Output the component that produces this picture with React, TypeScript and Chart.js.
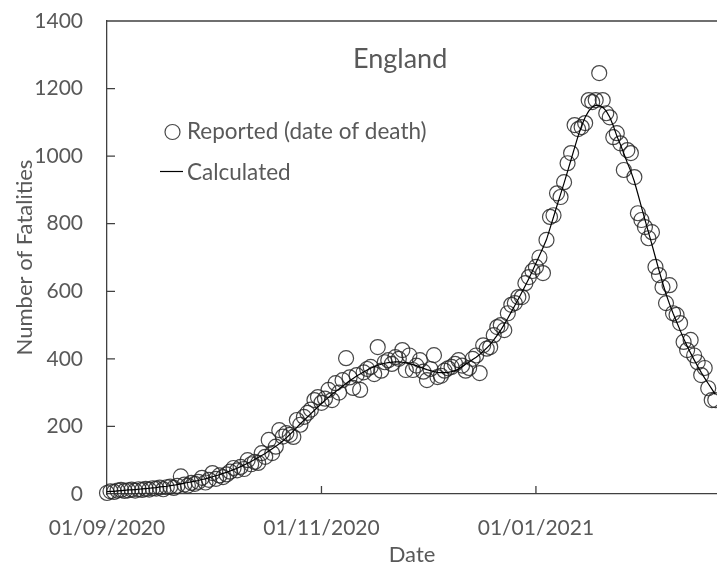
import React, { useEffect, useRef } from "react";
import { Chart, registerables } from "chart.js";
Chart.register(...registerables);

// Day 0 = 01/09/2020, one value per day
const reported = [
  3, 8, 6, 10, 12, 9, 11, 13, 10, 14,
  12, 15, 13, 17, 16, 19, 14, 20, 22, 18,
  24, 52, 28, 25, 33, 30, 36, 48, 34, 42,
  62, 45, 55, 50, 58, 66, 77, 70, 80, 74,
  100, 88, 95, 92, 121, 110, 160, 121, 140, 189,
  170, 180, 175, 169, 219, 205, 228, 240, 250, 278,
  287, 270, 282, 308, 278, 328, 300, 337, 402, 345,
  314, 352, 308, 360, 370, 376, 355, 435, 365, 390,
  396, 385, 405, 400, 426, 367, 410, 367, 380, 396,
  362, 337, 370, 411, 346, 350, 365, 372, 376, 385,
  396, 380, 365, 373, 400, 410, 358, 440, 430, 435,
  470, 494, 500, 485, 535, 560, 565, 583, 583, 624,
  642, 660, 672, 700, 654, 752, 820, 825, 890, 879,
  923, 979, 1009, 1092, 1080, 1086, 1098, 1166, 1160, 1166,
  1246, 1166, 1127, 1115, 1056, 1068, 1038, 959, 1018, 1009,
  938, 831, 811, 790, 757, 775, 672, 648, 612, 565,
  618, 535, 530, 506, 450, 426, 456, 410, 390, 352,
  373, 313, 278, 278,
];

const calculated = [
  7, 8, 8, 9, 10, 11, 12, 12, 13, 14,
  15, 16, 17, 18, 19, 21, 22, 23, 25, 26,
  28, 30, 32, 34, 36, 38, 40, 43, 45, 48,
  51, 54, 57, 61, 64, 68, 72, 76, 81, 86,
  91, 96, 102, 108, 114, 120, 127, 134, 141, 149,
  157, 166, 176, 186, 197, 208, 218, 228, 238, 248,
  258, 268, 277, 286, 295, 303, 311, 319, 327, 335,
  342, 349, 355, 361, 367, 372, 377, 381, 384, 387,
  389, 390, 391, 391, 390, 388, 386, 383, 380, 376,
  372, 368, 365, 362, 360, 359, 359, 360, 362, 365,
  370, 377, 384, 391, 398, 405, 413, 422, 432, 443,
  456, 470, 485, 502, 520, 539, 558, 577, 597, 617,
  638, 660, 683, 706, 729, 753, 786, 820, 854, 887,
  920, 955, 990, 1025, 1060, 1090, 1115, 1133, 1145, 1151,
  1150, 1145, 1133, 1115, 1090, 1060, 1035, 1008, 980, 955,
  925, 888, 850, 812, 775, 738, 700, 662, 626, 592,
  562, 535, 510, 485, 460, 438, 417, 397, 378, 360,
  343, 327, 311, 295,
];

const tickDays = [0, 61, 122];
const tickLabels = ["01/09/2020", "01/11/2020", "01/01/2021"];
const yTicks = [0, 200, 400, 600, 800, 1000, 1200, 1400];
const xMaxDay = 173.5;
const titleText = "England";
const legendReported = "Reported (date of death)";
const legendCalculated = "Calculated";

export default function App() {
  const ref = useRef<HTMLCanvasElement>(null);
  useEffect(() => {
    const canvas = ref.current;
    if (!canvas) return;
    const gray = "#595959";
    const axisColor = "#404040";
    const markColor = "rgba(40,40,40,0.85)";
    const fam = "Lato, 'Open Sans', sans-serif";

    const decor = {
      id: "decor",
      beforeDatasetsDraw(chart: any) {
        const { ctx, chartArea: a, scales } = chart;
        ctx.save();
        ctx.strokeStyle = axisColor;
        ctx.lineWidth = 1.3;
        ctx.beginPath();
        ctx.moveTo(a.left, a.top);
        ctx.lineTo(a.right, a.top);
        yTicks.forEach((v) => {
          if (v === 0 || v === 1400) return;
          const y = scales.y.getPixelForValue(v);
          ctx.moveTo(a.left, y);
          ctx.lineTo(a.left + 8, y);
        });
        tickDays.forEach((d) => {
          if (d === 0) return;
          const x = scales.x.getPixelForValue(d);
          ctx.moveTo(x, a.bottom);
          ctx.lineTo(x, a.bottom - 8);
        });
        ctx.stroke();
        ctx.restore();
      },
      afterDraw(chart: any) {
        const { ctx } = chart;
        ctx.save();
        ctx.fillStyle = gray;
        ctx.textBaseline = "alphabetic";
        ctx.textAlign = "left";
        ctx.font = `27px ${fam}`;
        ctx.fillText(titleText, 353, 68);
        ctx.font = `22.5px ${fam}`;
        ctx.fillText(legendReported, 187, 139);
        ctx.fillText(legendCalculated, 187, 180);
        ctx.strokeStyle = markColor;
        ctx.lineWidth = 1.2;
        ctx.beginPath();
        ctx.arc(172.5, 132, 7.5, 0, Math.PI * 2);
        ctx.stroke();
        ctx.strokeStyle = "#000";
        ctx.lineWidth = 1.2;
        ctx.beginPath();
        ctx.moveTo(160, 171.5);
        ctx.lineTo(183, 171.5);
        ctx.stroke();
        ctx.restore();
      },
    };

    const chart = new Chart(canvas, {
      type: "scatter",
      data: {
        datasets: [
          {
            type: "line",
            label: legendCalculated,
            data: calculated.map((v, i) => ({ x: i, y: v })),
            borderColor: "#000",
            borderWidth: 1.2,
            pointRadius: 0,
            tension: 0,
            fill: false,
            order: 1,
          },
          {
            label: legendReported,
            data: reported.map((v, i) => ({ x: i, y: v })),
            pointRadius: 7.5,
            pointStyle: "circle",
            backgroundColor: "rgba(0,0,0,0)",
            borderColor: markColor,
            borderWidth: 1.2,
            clip: false,
            order: 2,
          } as any,
        ],
      },
      options: {
        animation: false,
        responsive: false,
        maintainAspectRatio: false,
        layout: { autoPadding: false, padding: { top: 21, right: 0, left: 0, bottom: 0 } },
        plugins: {
          legend: { display: false },
          title: { display: false },
          tooltip: { enabled: false },
        },
        scales: {
          x: {
            type: "linear",
            min: 0,
            max: xMaxDay,
            afterBuildTicks: (scale: any) => {
              scale.ticks = tickDays.map((v) => ({ value: v }));
            },
            afterFit: (scale: any) => {
              scale.height = 73;
              scale.paddingLeft = 0;
              scale.paddingRight = 0;
              scale.paddingTop = 0;
              scale.paddingBottom = 0;
            },
            grid: { display: false, drawTicks: false },
            border: { display: true, color: axisColor, width: 1.3 },
            ticks: {
              autoSkip: false,
              maxRotation: 0,
              padding: 22,
              color: gray,
              font: { family: fam, size: 21 },
              callback: (value: any) => {
                const idx = tickDays.indexOf(Number(value));
                return idx >= 0 ? tickLabels[idx] : "";
              },
            },
            title: {
              display: true,
              text: "Date",
              color: gray,
              font: { family: fam, size: 22, lineHeight: 1.1 },
              padding: { top: 0, bottom: 0 },
            },
          },
          y: {
            type: "linear",
            min: 0,
            max: 1400,
            afterBuildTicks: (scale: any) => {
              scale.ticks = yTicks.map((v) => ({ value: v }));
            },
            afterFit: (scale: any) => {
              scale.width = 107;
              scale.paddingLeft = 0;
              scale.paddingRight = 0;
              scale.paddingTop = 0;
              scale.paddingBottom = 0;
            },
            grid: { display: false, drawTicks: false },
            border: { display: true, color: axisColor, width: 1.3 },
            ticks: {
              padding: 24,
              color: gray,
              font: { family: fam, size: 21 },
              callback: (value: any) => String(value),
            },
            title: {
              display: true,
              text: "Number of Fatalities",
              color: gray,
              font: { family: fam, size: 22 },
              padding: { top: 12, bottom: 0 },
            },
          },
        },
      },
      plugins: [decor],
    });
    return () => chart.destroy();
  }, []);

  return (
    <div style={{ position: "absolute", left: 0, top: 0, width: 717, height: 567, background: "#fff" }}>
      <canvas ref={ref} width={717} height={567} style={{ display: "block", width: 717, height: 567 }} />
    </div>
  );
}
